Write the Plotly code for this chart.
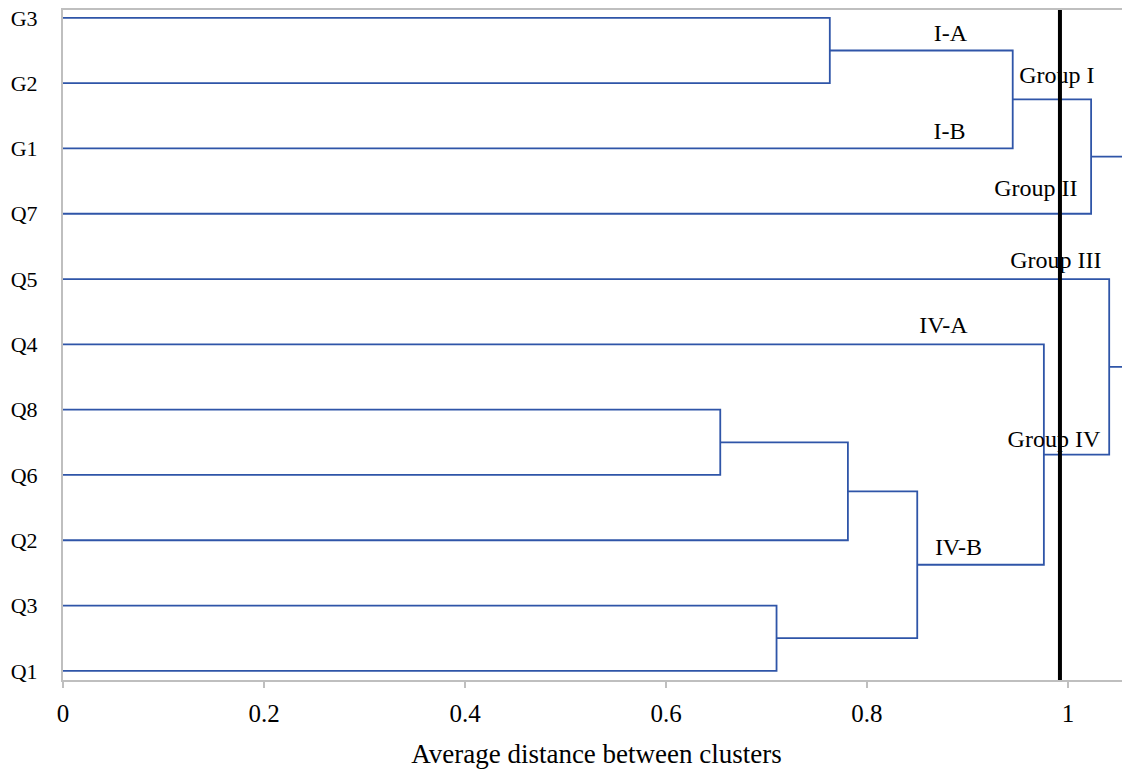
import plotly.graph_objects as go

# ---- data ----
leaves = ["G3", "G2", "G1", "Q7", "Q5", "Q4", "Q8", "Q6", "Q2", "Q3", "Q1"]  # top to bottom
# merges: (child_a, child_b, distance, node_name)
merge_a = ["G3", "n1", "n2", "Q8", "n4", "Q3", "n5", "Q4", "Q5", "n3"]
merge_b = ["G2", "G1", "Q7", "Q6", "Q2", "Q1", "n6", "n7", "n8", "n9"]
merge_dist = [0.763, 0.945, 1.023, 0.654, 0.781, 0.710, 0.850, 0.976, 1.041, 1.0595]
merge_name = ["n1", "n2", "n3", "n4", "n5", "n6", "n7", "n8", "n9", "root"]

cut_distance = 0.992

group_labels = ["I-A", "Group I", "I-B", "Group II", "Group III", "IV-A", "Group IV", "IV-B"]
group_label_x = [0.883, 0.989, 0.882, 0.968, 0.988, 0.876, 0.986, 0.891]
group_label_y = [9.74, 9.10, 8.24, 7.37, 6.26, 5.27, 3.52, 1.87]

xticks = [0, 0.2, 0.4, 0.6, 0.8, 1]
xtick_text = ["0", "0.2", "0.4", "0.6", "0.8", "1"]

# ---- layout of dendrogram ----
n = len(leaves)
pos_y = {name: float(n - 1 - i) for i, name in enumerate(leaves)}
pos_x = {name: 0.0 for name in leaves}

xs, ys = [], []
for a, b, d, nm in zip(merge_a, merge_b, merge_dist, merge_name):
    xa, ya = pos_x[a], pos_y[a]
    xb, yb = pos_x[b], pos_y[b]
    xs += [xa, d, d, xb, None]
    ys += [ya, ya, yb, yb, None]
    pos_x[nm] = d
    pos_y[nm] = (ya + yb) / 2

FONT = "Liberation Serif, Times New Roman, DejaVu Serif, serif"
yrange = [-0.14, 10.12]
xrange = [0, 1.0617]

fig = go.Figure()
fig.add_trace(go.Scatter(x=xs, y=ys, mode="lines",
                         line=dict(color="#2F55A8", width=1.8),
                         hoverinfo="skip", showlegend=False))
fig.add_trace(go.Scatter(x=group_label_x, y=group_label_y, mode="text",
                         text=group_labels, textposition="middle center",
                         textfont=dict(family=FONT, size=24, color="black"),
                         hoverinfo="skip", showlegend=False, cliponaxis=False))
fig.add_trace(go.Scatter(x=[cut_distance, cut_distance], y=yrange, mode="lines",
                         line=dict(color="black", width=4),
                         hoverinfo="skip", showlegend=False))

fig.update_layout(
    width=1122, height=761,
    margin=dict(l=55, r=0, t=2, b=89, autoexpand=False),
    paper_bgcolor="white", plot_bgcolor="white",
    font=dict(family=FONT, size=24, color="black"),
)
fig.update_xaxes(range=xrange, tickvals=xticks, ticktext=xtick_text,
                 showgrid=False, zeroline=False,
                 showline=True, linecolor="#BFBFBF", linewidth=2, mirror=True,
                 ticks="outside", ticklen=6, tickcolor="#BFBFBF", tickwidth=1.5,
                 tickfont=dict(family=FONT, size=25), ticklabelstandoff=4,
                 ticklabeloverflow="allow",
                 automargin=False,
                 title=dict(text="Average distance between clusters",
                            font=dict(family=FONT, size=27), standoff=27))
fig.update_yaxes(range=yrange, tickvals=[pos_y[l] for l in leaves], ticktext=leaves,
                 showgrid=False, zeroline=False, automargin=False,
                 showline=True, linecolor="#BFBFBF", linewidth=2,
                 ticks="", ticklabelstandoff=19, ticklabeloverflow="allow",
                 tickfont=dict(family=FONT, size=22))

fig.write_html("out.html")
